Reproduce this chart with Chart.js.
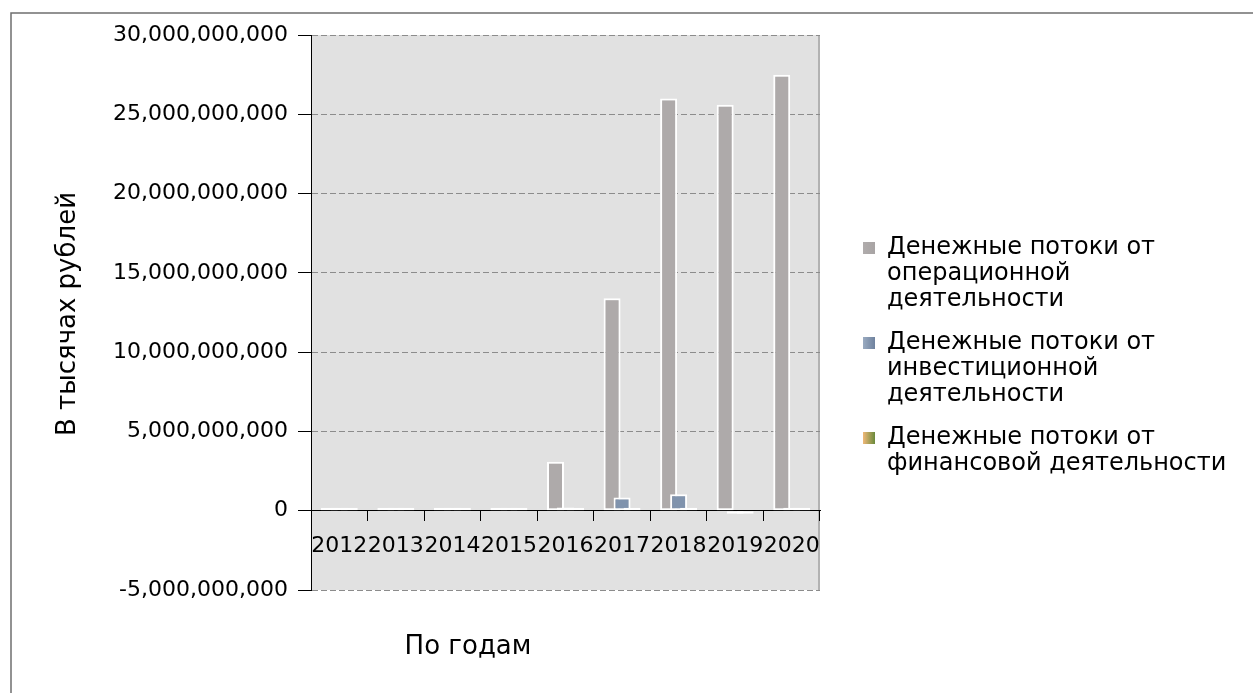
<!DOCTYPE html>
<html>
<head>
<meta charset="utf-8">
<script src="https://cdn.jsdelivr.net/npm/chart.js@4/dist/chart.umd.min.js"></script>
<style>
  html, body { margin: 0; padding: 0; background: #ffffff; }
  #wrap { width: 1253px; height: 693px; position: relative; }
</style>
</head>
<body>
<div id="wrap"><canvas id="cashflow" width="1253" height="693"></canvas></div>
<script>
// Years on the category axis
const years = ['2012', '2013', '2014', '2015', '2016', '2017', '2018', '2019', '2020'];

// Cash flows, thousand rubles
const operating = [20e6, 30e6, 30e6, 40e6, 3.08e9, 13.4e9, 26.0e9, 25.6e9, 27.5e9];
const investing = [10e6, 10e6, 10e6, 20e6, 0.2e9, 0.83e9, 1.04e9, -40e6, 0.15e9];
const financing = [10e6, 20e6, 10e6, 20e6, 20e6, 20e6, 20e6, -40e6, 20e6];

// Series names, broken into legend lines
const seriesNames = [
  ['Денежные потоки от', 'операционной', 'деятельности'],
  ['Денежные потоки от', 'инвестиционной', 'деятельности'],
  ['Денежные потоки от', 'финансовой деятельности']
];

// Value axis range and step
const yMin = -5e9;
const yMax = 30e9;
const yStep = 5e9;

const yTitle = 'В тысячах рублей';
const xTitle = 'По годам';

const FONT = '"DejaVu Sans", sans-serif';
const seriesColors = ['#aeaaaa', '#8093ad', '#c9a561'];
const legendSwatches = [
  ['#b0acac', '#a8a4a4'],
  ['#9aabc1', '#6f829e'],
  ['#f0b878', '#6a8a3c']
];

// Grey plot background, right edge and outer frame
const backdrop = {
  id: 'backdrop',
  beforeDraw(chart) {
    const { ctx, chartArea: a } = chart;
    ctx.save();
    ctx.fillStyle = '#e1e1e1';
    ctx.fillRect(a.left, a.top, a.right - a.left, a.bottom - a.top);
    ctx.strokeStyle = '#b2b2b2';
    ctx.lineWidth = 2;
    ctx.beginPath();
    ctx.moveTo(a.right - 1, a.top);
    ctx.lineTo(a.right - 1, a.bottom);
    ctx.stroke();
    ctx.strokeStyle = '#6f6f6f';
    ctx.lineWidth = 1.5;
    ctx.beginPath();
    ctx.moveTo(11, chart.height);
    ctx.lineTo(11, 13);
    ctx.lineTo(chart.width, 13);
    ctx.stroke();
    ctx.restore();
  }
};

// Draw the series first-to-last so each later bar overlaps the one before it
const forwardOrder = {
  id: 'forwardOrder',
  beforeDatasetsDraw(chart) {
    chart.data.datasets.forEach((ds, i) => {
      const meta = chart.getDatasetMeta(i);
      if (meta.visible !== false) meta.controller.draw();
    });
    return false;
  }
};

// Axis titles and the wrapped legend on the right
const annotations = {
  id: 'annotations',
  afterDraw(chart) {
    const { ctx } = chart;
    ctx.save();
    ctx.fillStyle = '#000000';
    ctx.font = '26px ' + FONT;
    ctx.textAlign = 'center';
    ctx.textBaseline = 'middle';
    ctx.fillText(xTitle, 468, 647);
    ctx.save();
    ctx.translate(68, 314);
    ctx.rotate(-Math.PI / 2);
    ctx.fillText(yTitle, 0, 0);
    ctx.restore();

    ctx.textAlign = 'left';
    ctx.font = '24px ' + FONT;
    const lineH = 26;
    let y = 248;
    chart.data.datasets.forEach((ds, i) => {
      const lines = seriesNames[i];
      const g = ctx.createLinearGradient(863, 0, 875, 0);
      g.addColorStop(0, legendSwatches[i][0]);
      g.addColorStop(1, legendSwatches[i][1]);
      ctx.fillStyle = g;
      ctx.fillRect(863, y - 6, 12, 12);
      ctx.fillStyle = '#000000';
      lines.forEach((t, k) => ctx.fillText(t, 887, y + k * lineH));
      y += lines.length * lineH + 17;
    });
    ctx.restore();
  }
};

const barStyle = {
  borderColor: '#ffffff',
  borderWidth: 2,
  borderSkipped: false,
  minBarLength: 3,
  barPercentage: 1.7,
  categoryPercentage: 0.53
};

new Chart(document.getElementById('cashflow'), {
  type: 'bar',
  data: {
    labels: years,
    datasets: [
      Object.assign({ label: seriesNames[0].join(' '), data: operating, backgroundColor: seriesColors[0] }, barStyle),
      Object.assign({ label: seriesNames[1].join(' '), data: investing, backgroundColor: seriesColors[1] }, barStyle),
      Object.assign({ label: seriesNames[2].join(' '), data: financing, backgroundColor: seriesColors[2] }, barStyle)
    ]
  },
  options: {
    responsive: false,
    animation: false,
    devicePixelRatio: 1,
    layout: { padding: { left: 0, top: 35, right: 433, bottom: 103 } },
    plugins: {
      legend: { display: false },
      tooltip: { enabled: false }
    },
    scales: {
      x: {
        position: { y: 0 },
        offset: true,
        afterFit(scale) { scale.height = 0; },
        grid: {
          offset: true,
          drawOnChartArea: false,
          drawTicks: true,
          tickLength: 10,
          tickColor: '#000000'
        },
        border: { display: true, color: '#000000', width: 1 },
        ticks: {
          autoSkip: false,
          maxRotation: 0,
          minRotation: 0,
          padding: 12,
          color: '#000000',
          font: { family: FONT, size: 22 }
        }
      },
      y: {
        min: yMin,
        max: yMax,
        afterFit(scale) { scale.width = 311; },
        grid: {
          color: '#8c8c8c',
          tickColor: '#000000',
          tickLength: 13
        },
        border: { display: true, color: '#000000', width: 1, dash: [6, 3] },
        ticks: {
          stepSize: yStep,
          padding: 10,
          color: '#000000',
          font: { family: FONT, size: 22 },
          callback: v => v.toLocaleString('en-US')
        }
      }
    }
  },
  plugins: [backdrop, forwardOrder, annotations]
});
</script>
</body>
</html>
